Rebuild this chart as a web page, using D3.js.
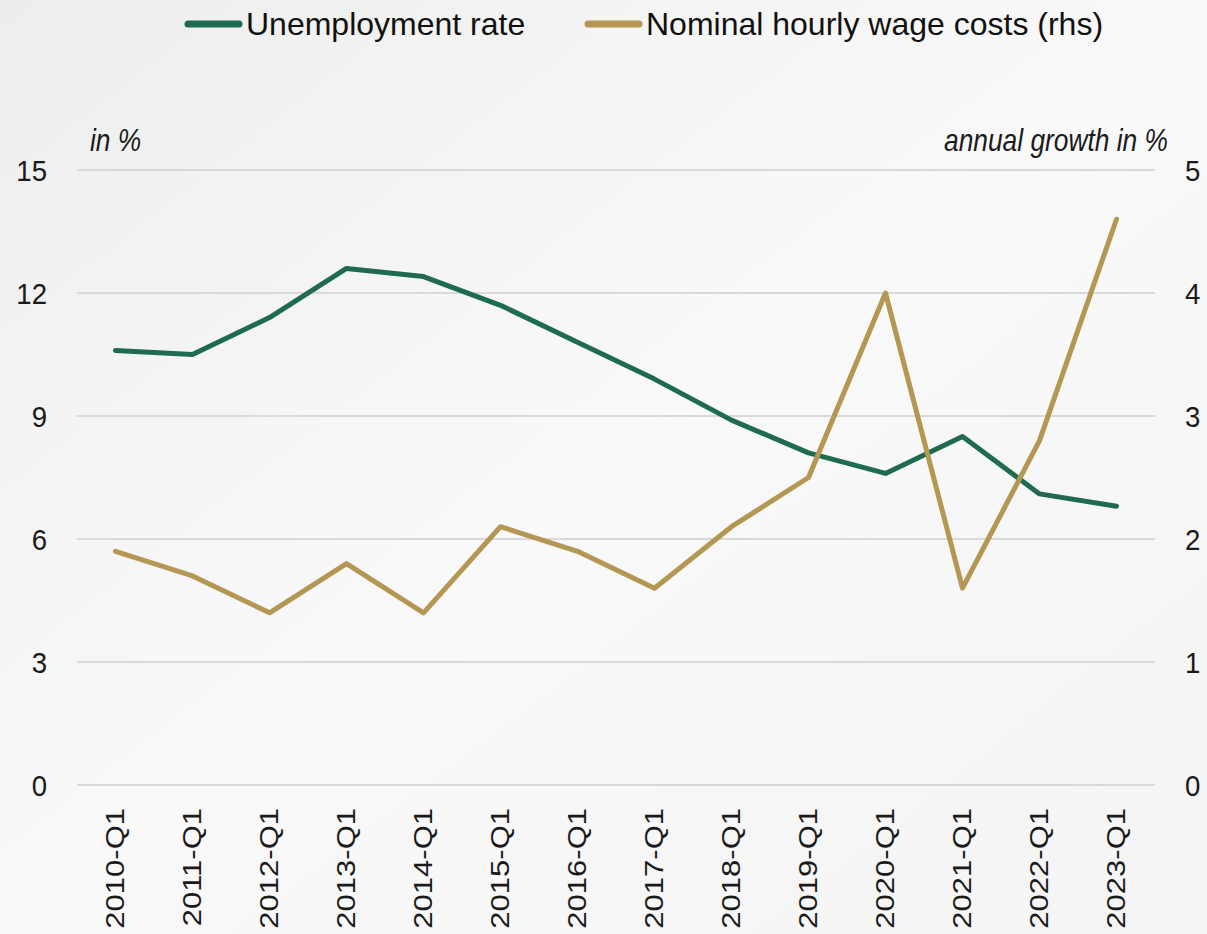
<!DOCTYPE html>
<html>
<head>
<meta charset="utf-8">
<script src="https://cdn.jsdelivr.net/npm/d3@7"></script>
<style>
  html, body { margin: 0; padding: 0; }
  body { width: 1207px; height: 934px; overflow: hidden; }
  svg { display: block; }
</style>
</head>
<body>
<svg id="chart" width="1207" height="934"></svg>
<script>
// Quarterly observations
const periods = ["2010-Q1","2011-Q1","2012-Q1","2013-Q1","2014-Q1","2015-Q1","2016-Q1",
                 "2017-Q1","2018-Q1","2019-Q1","2020-Q1","2021-Q1","2022-Q1","2023-Q1"];
// Unemployment rate, in % (left axis)
const unemployment = [10.6, 10.5, 11.4, 12.6, 12.4, 11.7, 10.8, 9.9, 8.9, 8.1, 7.6, 8.5, 7.1, 6.8];
// Nominal hourly wage costs, annual growth in % (right axis)
const wageGrowth = [1.9, 1.7, 1.4, 1.8, 1.4, 2.1, 1.9, 1.6, 2.1, 2.5, 4.0, 1.6, 2.8, 4.6];
// Axis ticks
const leftTicks = [0, 3, 6, 9, 12, 15];
const rightTicks = [0, 1, 2, 3, 4, 5];
// Legend entries
const seriesNames = ["Unemployment rate", "Nominal hourly wage costs (rhs)"];
const seriesColors = ["#1f6b4f", "#b39752"];

const W = 1207, H = 934;
const plot = { left: 77, right: 1155, top: 170, bottom: 785 };
const svg = d3.select("#chart");

// soft grey backdrop
const defs = svg.append("defs");
const grad = defs.append("linearGradient").attr("id", "bg")
  .attr("x1", "0").attr("y1", "0").attr("x2", "1").attr("y2", "1");
grad.append("stop").attr("offset", "0").attr("stop-color", "#eceeec");
grad.append("stop").attr("offset", "0.5").attr("stop-color", "#f9f9f9");
grad.append("stop").attr("offset", "1").attr("stop-color", "#f3f4f3");
svg.append("rect").attr("width", W).attr("height", H).attr("fill", "url(#bg)");

const x = d3.scaleBand().domain(periods).range([plot.left, plot.right]);
const yL = d3.scaleLinear().domain([0, 15]).range([plot.bottom, plot.top]);
const yR = d3.scaleLinear().domain([0, 5]).range([plot.bottom, plot.top]);

const font = "'Liberation Sans', Arial, sans-serif";

// horizontal gridlines
svg.append("g").selectAll("line").data(leftTicks).join("line")
  .attr("x1", plot.left).attr("x2", plot.right)
  .attr("y1", d => yL(d)).attr("y2", d => yL(d))
  .attr("stroke", "#d9d9d9").attr("stroke-width", 2);

// left axis (labels slightly condensed)
const gL = svg.append("g").attr("transform", `translate(${plot.left},0)`)
  .call(d3.axisLeft(yL).tickValues(leftTicks).tickSize(0).tickFormat(d3.format("d")));
gL.select(".domain").remove();
gL.selectAll("text")
  .attr("font-family", font).attr("font-size", 30).attr("fill", "#1a1a1a")
  .attr("x", 0).attr("dy", "0.35em").attr("text-anchor", "end")
  .attr("transform", "translate(-30,0) scale(0.92,1)");

// right axis
const gR = svg.append("g").attr("transform", `translate(${plot.right},0)`)
  .call(d3.axisRight(yR).tickValues(rightTicks).tickSize(0).tickFormat(d3.format("d")));
gR.select(".domain").remove();
gR.selectAll("text")
  .attr("font-family", font).attr("font-size", 30).attr("fill", "#1a1a1a")
  .attr("x", 0).attr("dy", "0.35em").attr("text-anchor", "start")
  .attr("transform", "translate(30,0) scale(0.92,1)");

// category axis with rotated labels
const gX = svg.append("g").attr("transform", `translate(0,${plot.bottom})`)
  .call(d3.axisBottom(x).tickSize(0).tickPadding(0));
gX.select(".domain").remove();
gX.selectAll("text")
  .attr("font-family", font).attr("font-size", 25).attr("fill", "#1a1a1a")
  .attr("x", 0).attr("y", 0).attr("dy", "0.35em")
  .attr("text-anchor", "end")
  .attr("transform", "translate(0,23) rotate(-90) scale(1.24,1)");

// axis unit captions
svg.append("text")
  .attr("transform", "translate(90,151) scale(0.85,1)")
  .attr("font-family", font).attr("font-style", "italic").attr("font-size", 31)
  .attr("fill", "#1a1a1a").text("in %");
svg.append("text")
  .attr("transform", "translate(1168,151) scale(0.85,1)").attr("text-anchor", "end")
  .attr("font-family", font).attr("font-style", "italic").attr("font-size", 31)
  .attr("fill", "#1a1a1a").text("annual growth in %");

// series lines
const cx = d => x(d) + x.bandwidth() / 2;
const lineL = d3.line().x((d, i) => cx(periods[i])).y(d => yL(d));
const lineR = d3.line().x((d, i) => cx(periods[i])).y(d => yR(d));

svg.append("path").datum(unemployment).attr("d", lineL)
  .attr("fill", "none").attr("stroke", seriesColors[0]).attr("stroke-width", 5)
  .attr("stroke-linejoin", "round").attr("stroke-linecap", "round");
svg.append("path").datum(wageGrowth).attr("d", lineR)
  .attr("fill", "none").attr("stroke", seriesColors[1]).attr("stroke-width", 5)
  .attr("stroke-linejoin", "round").attr("stroke-linecap", "round");

// legend
const legendPos = [185, 585];
const lg = svg.append("g").selectAll("g").data(seriesNames).join("g")
  .attr("transform", (d, i) => `translate(${legendPos[i]},24)`);
lg.append("line").attr("x1", 3).attr("x2", 54).attr("y1", 0).attr("y2", 0)
  .attr("stroke", (d, i) => seriesColors[i]).attr("stroke-width", 7).attr("stroke-linecap", "round");
lg.append("text").attr("x", 61).attr("y", 0).attr("dy", "0.35em")
  .attr("font-family", font).attr("font-size", 32).attr("fill", "#111")
  .text(d => d);
</script>
</body>
</html>
